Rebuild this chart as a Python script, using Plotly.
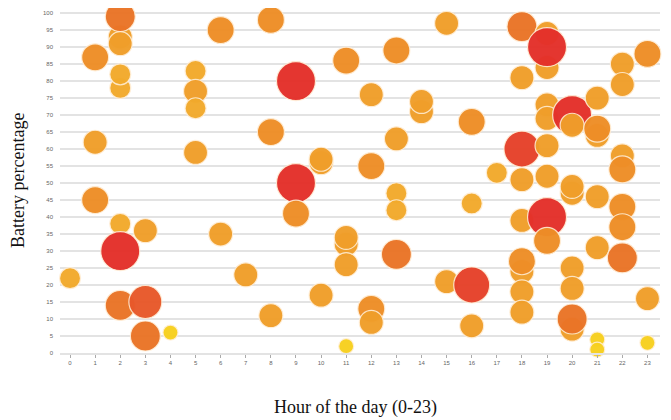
import plotly.graph_objects as go

# Hour of the day for each reading
hours = [0,
         1, 1, 1,
         2, 2, 2, 2, 2, 2, 2, 2,
         3, 3, 3,
         4,
         5, 5, 5, 5,
         6, 6,
         7,
         8, 8, 8,
         9, 9, 9,
         10, 10, 10,
         11, 11, 11, 11, 11,
         12, 12, 12, 12,
         13, 13, 13, 13, 13,
         14, 14,
         15, 15,
         16, 16, 16, 16,
         17,
         18, 18, 18, 18, 18, 18, 18, 18, 18,
         19, 19, 19, 19, 19, 19, 19, 19, 19,
         20, 20, 20, 20, 20, 20, 20, 20,
         21, 21, 21, 21, 21, 21, 21,
         22, 22, 22, 22, 22, 22, 22,
         23, 23, 23]

# Battery percentage for each reading
battery = [22,
           87, 62, 45,
           93, 99, 91, 78, 82, 38, 30, 14,
           36, 15, 5,
           6,
           83, 77, 72, 59,
           95, 35,
           23,
           98, 65, 11,
           80, 50, 41,
           56, 57, 17,
           86, 32, 34, 26, 2,
           76, 55, 13, 9,
           89, 63, 47, 42, 29,
           71, 74,
           97, 21,
           68, 44, 20, 8,
           53,
           96, 81, 60, 51, 39, 24, 27, 18, 12,
           94, 84, 90, 73, 69, 61, 52, 40, 33,
           70, 67, 47, 49, 25, 19, 7, 10,
           75, 64, 66, 46, 31, 4, 1,
           85, 79, 58, 54, 43, 37, 28,
           88, 16, 3]

# Third variable (drives bubble size and colour)
readings = [4,
            6, 5, 6,
            5, 7, 5, 4, 4, 4, 10, 7,
            5, 8, 7,
            2,
            4, 5, 4, 5,
            6, 5,
            5,
            6, 6, 5,
            10, 10, 6,
            5, 5, 5,
            6, 5, 5, 5, 2,
            5, 6, 6, 5,
            6, 5, 4, 4, 7,
            5, 5,
            5, 5,
            6, 4, 9, 5,
            4,
            7, 5, 9, 5, 5, 5, 6, 5, 5,
            5, 5, 10, 5, 5, 5, 5, 10, 6,
            10, 5, 5, 5, 5, 5, 5, 7,
            5, 5, 6, 5, 5, 2, 2,
            5, 5, 5, 6, 6, 6, 7,
            6, 5, 2]

x_ticks = list(range(0, 24))
y_ticks = list(range(0, 101, 5))

sizes = [9 + 3 * r for r in readings]

colorscale = [
    [0.0, "#f7d01e"],
    [0.25, "#f2aa2c"],
    [0.375, "#f09e2a"],
    [0.5, "#ee8e27"],
    [0.625, "#ea7427"],
    [0.75, "#e8582a"],
    [0.875, "#e6422a"],
    [1.0, "#e4302a"],
]

fig = go.Figure()
fig.add_trace(go.Scatter(
    x=hours, y=battery, mode="markers",
    cliponaxis=False,
    marker=dict(
        size=sizes, sizemode="diameter",
        color=readings, colorscale=colorscale, cmin=2, cmax=10,
        opacity=0.97,
        line=dict(color="rgba(255,238,215,0.9)", width=1.2),
    ),
    hoverinfo="x+y",
    showlegend=False,
))

# page body has an 8px default margin, so the figure is 8px smaller
fig.update_layout(
    width=663, height=412,
    paper_bgcolor="white", plot_bgcolor="white",
    margin=dict(l=52, r=11, t=0, b=67, pad=0),
    xaxis=dict(
        range=[-0.4, 23.5],
        tickvals=x_ticks, ticktext=[str(t) for t in x_ticks],
        showgrid=False, zeroline=False,
        showline=True, linecolor="#e3e3e3", linewidth=1.5,
        ticks="outside", ticklen=3, tickcolor="#aaaaaa", tickwidth=1,
        tickfont=dict(family="Liberation Sans, Arial, sans-serif", size=6, color="#666666"),
    ),
    yaxis=dict(
        range=[0, 101.5],
        tickvals=y_ticks, ticktext=[str(t) for t in y_ticks],
        showgrid=True, gridcolor="#e3e3e3", gridwidth=1.5,
        zeroline=False, showline=False, ticks="",
        ticklabelstandoff=6,
        tickfont=dict(family="Liberation Sans, Arial, sans-serif", size=6, color="#666666"),
    ),
    annotations=[
        dict(text="Battery percentage", xref="paper", yref="paper",
             x=-0.071, y=0.5, xanchor="center", yanchor="middle",
             textangle=-90, showarrow=False,
             font=dict(family="Liberation Serif, Times New Roman, serif", size=18, color="#111111")),
        dict(text="Hour of the day (0-23)", xref="paper", yref="paper",
             x=0.492, y=-0.157, xanchor="center", yanchor="middle",
             showarrow=False,
             font=dict(family="Liberation Serif, Times New Roman, serif", size=18, color="#111111")),
    ],
)

fig.write_html("out.html")
